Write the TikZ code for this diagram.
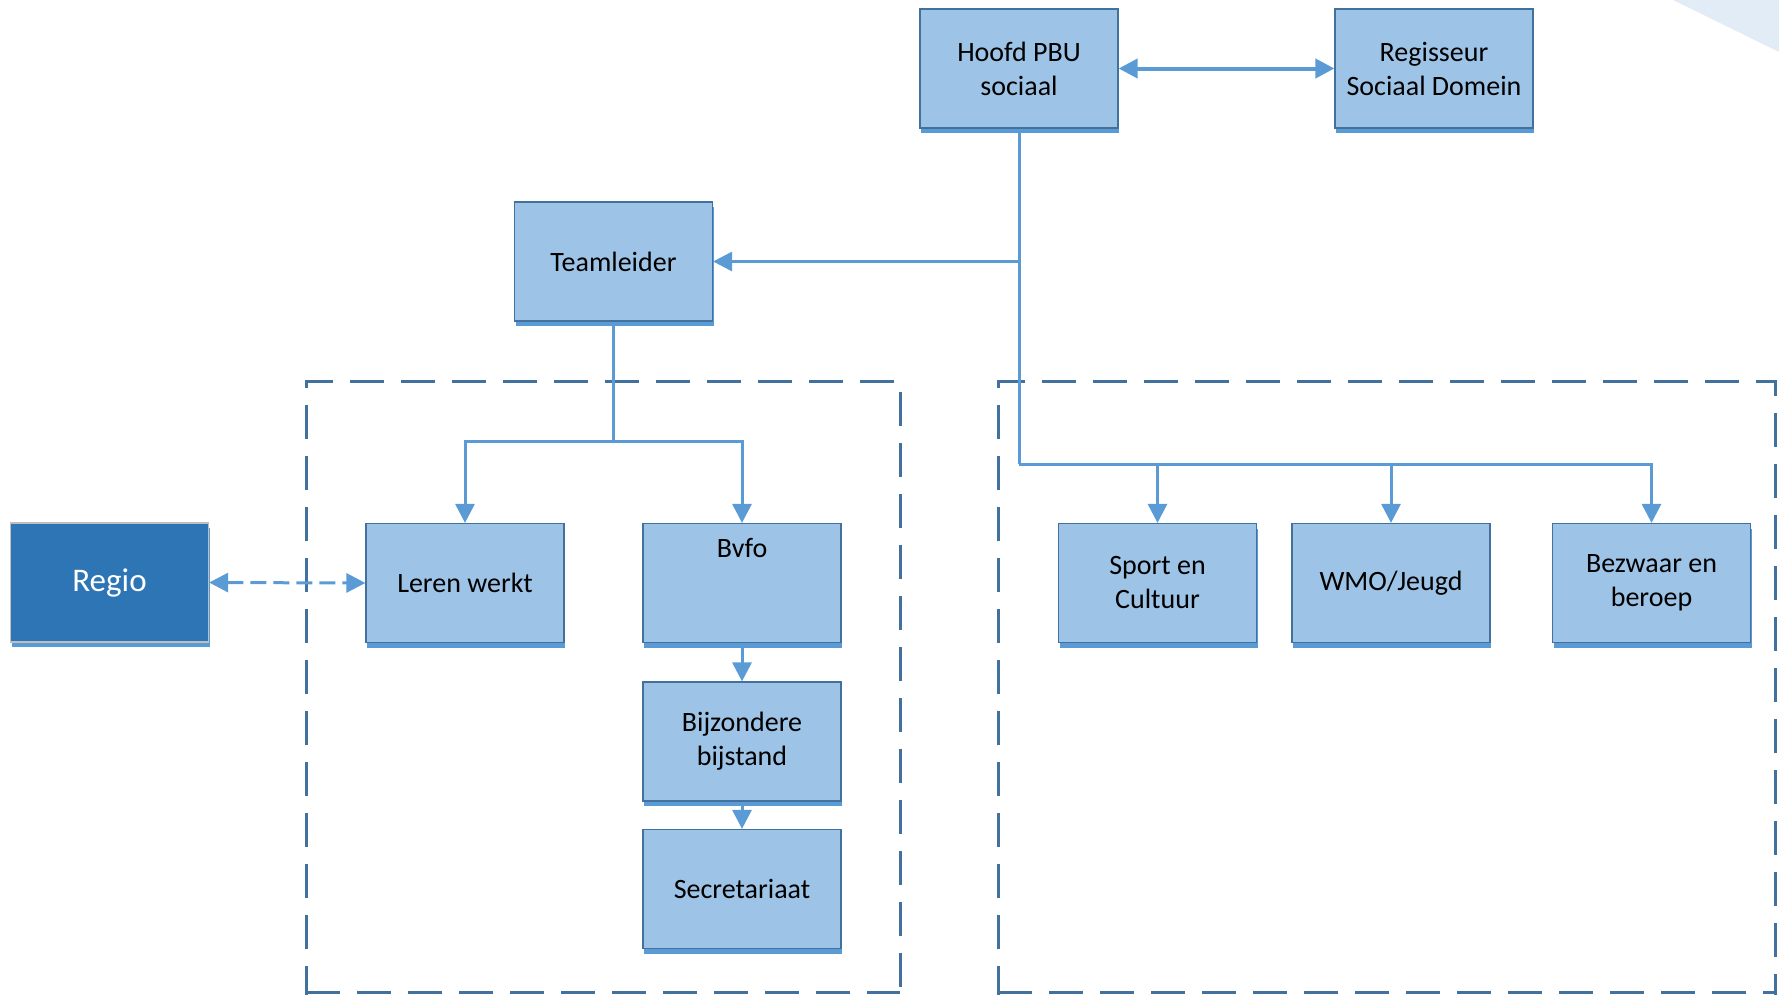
\documentclass[tikz,border=0pt]{standalone}
\usepackage{fontspec}
\setmainfont{Carlito}
\usetikzlibrary{arrows.meta,shadows,calc}
\definecolor{boxfill}{HTML}{9DC3E6}
\definecolor{boxline}{HTML}{41719C}
\definecolor{shadowc}{HTML}{5B9BD5}
\definecolor{connc}{HTML}{5B9BD5}
\definecolor{regiofill}{HTML}{2E75B6}
\definecolor{cornerc}{HTML}{E2ECF7}
\tikzset{
  orgbox/.style={draw=boxline, line width=1.2pt, fill=boxfill, minimum width=198pt, minimum height=119pt,
    inner sep=0pt, align=center, font=\fontsize{28}{34}\selectfont,
    drop shadow={shadow xshift=1pt, shadow yshift=-5pt, fill=shadowc, opacity=1}},
  regiobox/.style={orgbox, draw=black!25, fill=regiofill, text=white, font=\fontsize{33}{38}\selectfont},
  conn/.style={draw=connc, line width=3pt},
  arr/.style={conn, -{Triangle[width=19pt,length=19pt]}},
  darr/.style={conn, {Triangle[width=19pt,length=19pt]}-{Triangle[width=19pt,length=19pt]}},
  groupframe/.style={draw=boxline, line width=3pt, dash pattern=on 34pt off 17pt}
}
\begin{document}
\begin{tikzpicture}[x=1pt,y=-1pt]
\useasboundingbox (0,0) rectangle (1779,994);
\fill[cornerc] (1673,0) -- (1779,0) -- (1779,52) -- cycle;
% group frames
\draw[groupframe] (306,1000) -- (306,381) -- (900,381) -- (900,1000);
\draw[groupframe] (306,992) -- (900,992);
\draw[groupframe] (998,1000) -- (998,381) -- (1775,381) -- (1775,1000);
\draw[groupframe] (998,992) -- (1775,992);
% nodes
\node[orgbox] (hoofd) at (1019,68.5) {Hoofd PBU\\sociaal};
\node[orgbox] (regis) at (1434,68.5) {Regisseur\\Sociaal Domein};
\node[orgbox] (team) at (613.5,261.5) {Teamleider};
\node[regiobox] (regio) at (109.5,582.5) {Regio};
\node[orgbox] (leren) at (465,583) {Leren werkt};
\node[orgbox, label={[anchor=center, yshift=-25pt, font=\fontsize{28}{34}\selectfont]north:Bvfo}] (bvfo) at (742,583) {};
\node[orgbox] (bijz) at (742,741.5) {Bijzondere\\bijstand};
\node[orgbox] (secr) at (742,889) {Secretariaat};
\node[orgbox] (sport) at (1157.5,583) {Sport en\\Cultuur};
\node[orgbox] (wmo) at (1391,583) {WMO/Jeugd};
\node[orgbox] (bezw) at (1651.5,583) {Bezwaar en\\beroep};
% connectors
\draw[darr, line width=4pt] (hoofd.east) -- (regis.west);
\coordinate (hb) at (hoofd.south |- 0,464);
\coordinate (ht) at (hoofd.south |- team.east);
\draw[conn] (hoofd.south) -- (hb);
\draw[arr] (ht) -- (team.east);
\draw[arr] (hb) -| (sport.north);
\draw[arr] (hb) -| (wmo.north);
\draw[arr] (hb) -| (bezw.north);
\coordinate (tb) at (team.south |- 0,441);
\draw[arr] (team.south) -- (tb) -| (leren.north);
\draw[arr] (tb) -| (bvfo.north);
\draw[arr] (bvfo.south) -- (bijz.north);
\draw[arr] (bijz.south) -- (secr.north);
\draw[darr, dash pattern=on 16pt off 7pt] (regio.east) -- (leren.west);
\end{tikzpicture}
\end{document}
